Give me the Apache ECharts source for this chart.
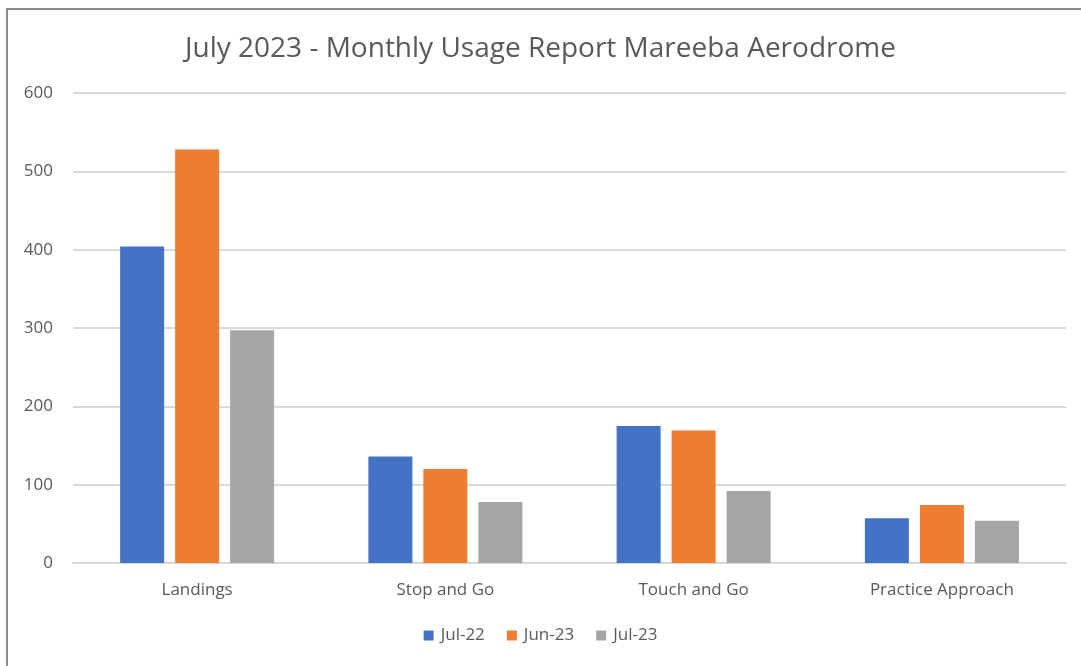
<!DOCTYPE html>
<html>
<head>
<meta charset="utf-8">
<script src="https://cdn.jsdelivr.net/npm/echarts@6/dist/echarts.min.js"></script>
<style>
  html, body { margin: 0; padding: 0; background: #fff; }
  #frame {
    position: absolute; left: 6px; top: 8px; width: 1075px; height: 658px;
    border-left: 2px solid #8c8c8c; border-top: 2px solid #8c8c8c;
    box-sizing: border-box;
  }
  #chart { position: absolute; left: 0; top: 0; width: 1081px; height: 666px; }
</style>
</head>
<body>
<div id="frame"></div>
<div id="chart"></div>
<script>
const categories = ["Landings", "Stop and Go", "Touch and Go", "Practice Approach"];
const seriesNames = ["Jul-22", "Jun-23", "Jul-23"];
const jul22 = [404, 136, 175, 57];
const jun23 = [528, 120, 169, 74];
const jul23 = [297, 78, 92, 54];
const colors = ["#4472C4", "#ED7D31", "#A5A5A5"];

const textColor = "#595959";
const font = "'Open Sans', sans-serif";

const chart = echarts.init(document.getElementById("chart"), null, { renderer: "canvas" });

const values = [jul22, jun23, jul23];
const series = seriesNames.map((name, i) => ({
  name: name,
  type: "bar",
  data: values[i],
  barWidth: 44,
  barGap: "25%",
  itemStyle: { color: colors[i] }
}));

chart.setOption({
  animation: false,
  title: {
    text: "July 2023 - Monthly Usage Report Mareeba Aerodrome",
    left: "center",
    top: 30,
    textStyle: { fontFamily: font, fontSize: 28, fontWeight: "normal", color: textColor }
  },
  legend: {
    data: seriesNames,
    bottom: 17,
    left: "center",
    icon: "rect",
    itemWidth: 10,
    itemHeight: 10,
    itemGap: 22,
    textStyle: { fontFamily: font, fontSize: 17, color: textColor, padding: [0, 0, 0, 2] }
  },
  grid: { left: 73, right: 15, top: 93, bottom: 103 },
  xAxis: {
    type: "category",
    data: categories,
    axisLine: { lineStyle: { color: "#D9D9D9", width: 2 } },
    axisTick: { show: false },
    axisLabel: { fontFamily: font, fontSize: 17, color: textColor, margin: 19 }
  },
  yAxis: {
    type: "value",
    min: 0,
    max: 600,
    interval: 100,
    axisLine: { show: false },
    axisTick: { show: false },
    splitLine: { lineStyle: { color: "#D9D9D9", width: 2 } },
    axisLabel: { fontFamily: font, fontSize: 17, color: textColor, margin: 20 }
  },
  series: series
});
</script>
</body>
</html>
